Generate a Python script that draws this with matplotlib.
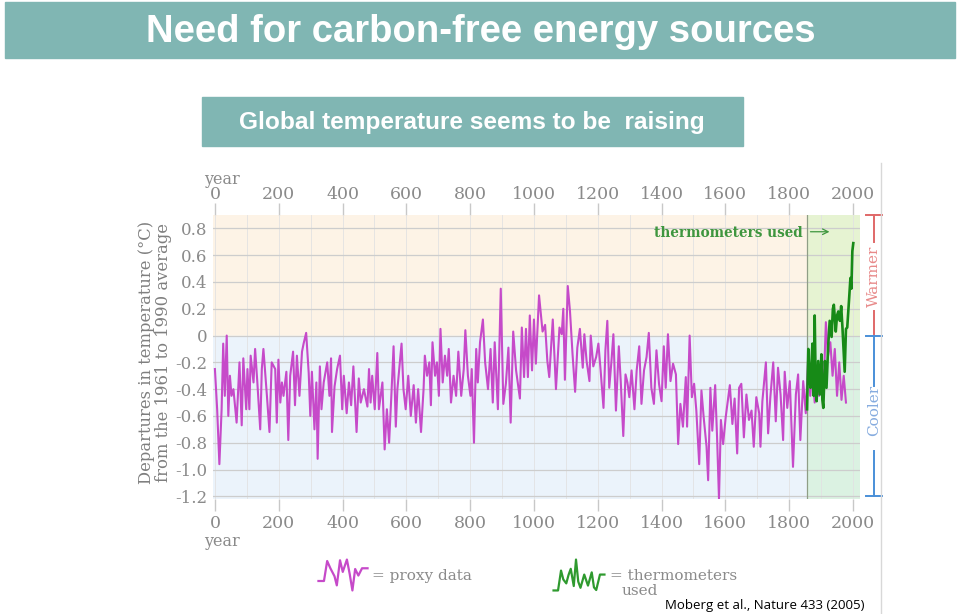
import numpy as np
import matplotlib.pyplot as plt
from matplotlib.patches import Rectangle

plt.rcParams['font.family'] = 'DejaVu Serif'

# Proxy reconstruction (Moberg et al. 2005)
proxy_years = [0, 7, 14, 21, 26, 31, 37, 42, 47, 52,
               58, 68, 77, 84, 89, 98, 102, 108, 112, 121,
               126, 133, 142, 147, 152, 163, 171, 178, 189, 194,
               199, 205, 210, 215, 224, 230, 236, 245, 251, 257,
               265, 273, 278, 286, 294, 299, 304, 312, 318, 322,
               329, 334, 341, 352, 359, 364, 367, 375, 383, 392,
               399, 404, 413, 420, 427, 434, 444, 451, 457, 467,
               478, 483, 488, 493, 501, 509, 514, 525, 532, 539,
               546, 553, 560, 567, 572, 585, 591, 598, 606, 614,
               623, 630, 637, 646, 654, 658, 665, 672, 677, 682,
               690, 696, 702, 707, 714, 721, 728, 733, 740, 748,
               756, 763, 772, 780, 785, 793, 801, 805, 812, 819,
               824, 831, 840, 847, 856, 864, 871, 877, 887, 896,
               904, 912, 920, 927, 935, 944, 951, 956, 962, 969,
               975, 981, 987, 994, 1000, 1006, 1016, 1027, 1035, 1042,
               1048, 1059, 1069, 1080, 1087, 1092, 1097, 1106, 1113, 1121,
               1129, 1136, 1144, 1153, 1158, 1165, 1174, 1178, 1186, 1195,
               1202, 1209, 1218, 1224, 1230, 1236, 1243, 1249, 1257, 1266,
               1272, 1280, 1287, 1293, 1299, 1306, 1315, 1322, 1330, 1337,
               1345, 1353, 1360, 1368, 1376, 1384, 1392, 1400, 1407, 1413,
               1420, 1428, 1436, 1445, 1452, 1459, 1467, 1476, 1480, 1488,
               1495, 1502, 1509, 1518, 1525, 1532, 1541, 1546, 1553, 1559,
               1568, 1574, 1580, 1586, 1593, 1601, 1614, 1622, 1629, 1637,
               1643, 1650, 1658, 1666, 1674, 1682, 1689, 1697, 1706, 1710,
               1716, 1727, 1734, 1741, 1750, 1758, 1765, 1773, 1781, 1786,
               1794, 1802, 1812, 1821, 1828, 1835, 1844, 1852, 1860, 1866,
               1873, 1880, 1887, 1894, 1901, 1908, 1915, 1922, 1929, 1936,
               1943, 1950, 1957, 1964, 1971, 1978]
proxy_temp = [-0.25, -0.55, -0.96, -0.55, -0.06, -0.45, 0.00, -0.60, -0.30, -0.45,
              -0.40, -0.65, -0.20, -0.67, -0.17, -0.55, -0.25, -0.55, -0.15, -0.35,
              -0.10, -0.35, -0.70, -0.25, -0.10, -0.45, -0.72, -0.20, -0.25, -0.65,
              -0.18, -0.50, -0.35, -0.45, -0.27, -0.78, -0.30, -0.12, -0.52, -0.15,
              -0.45, -0.12, -0.06, 0.02, -0.28, -0.60, -0.27, -0.70, -0.35, -0.92,
              -0.23, -0.55, -0.35, -0.20, -0.45, -0.17, -0.72, -0.38, -0.25, -0.15,
              -0.55, -0.30, -0.58, -0.35, -0.52, -0.23, -0.72, -0.32, -0.50, -0.40,
              -0.53, -0.25, -0.50, -0.30, -0.55, -0.13, -0.55, -0.35, -0.85, -0.55,
              -0.80, -0.45, -0.08, -0.68, -0.40, -0.06, -0.40, -0.55, -0.30, -0.60,
              -0.37, -0.65, -0.40, -0.72, -0.40, -0.15, -0.30, -0.20, -0.52, -0.05,
              -0.30, -0.20, -0.45, 0.05, -0.35, -0.15, -0.30, -0.10, -0.50, -0.30,
              -0.45, -0.12, -0.45, -0.25, 0.04, -0.30, -0.45, -0.25, -0.80, -0.10,
              -0.35, -0.05, 0.12, -0.20, -0.40, -0.10, -0.50, -0.05, -0.55, 0.35,
              -0.51, -0.36, -0.09, -0.65, 0.03, -0.26, -0.38, -0.47, 0.06, -0.31,
              0.05, -0.31, 0.15, -0.26, 0.12, -0.21, 0.30, 0.03, 0.08, -0.19,
              -0.31, 0.12, -0.40, 0.06, 0.01, 0.20, -0.33, 0.37, 0.18, -0.14,
              -0.42, -0.09, 0.05, -0.24, 0.01, -0.19, -0.34, 0.00, -0.23, -0.16,
              -0.06, -0.26, -0.54, -0.11, 0.11, -0.39, -0.19, 0.01, -0.56, -0.08,
              -0.34, -0.75, -0.29, -0.35, -0.46, -0.26, -0.55, -0.26, -0.08, -0.51,
              -0.26, -0.16, 0.02, -0.39, -0.51, -0.11, -0.36, -0.49, -0.08, -0.39,
              0.01, -0.34, -0.21, -0.29, -0.81, -0.51, -0.68, -0.31, -0.68, 0.00,
              -0.46, -0.36, -0.56, -0.96, -0.41, -0.61, -0.83, -1.08, -0.39, -0.71,
              -0.37, -0.76, -1.22, -0.63, -0.81, -0.61, -0.37, -0.66, -0.47, -0.88,
              -0.39, -0.36, -0.76, -0.44, -0.63, -0.56, -0.83, -0.46, -0.58, -0.83,
              -0.49, -0.20, -0.73, -0.46, -0.20, -0.64, -0.24, -0.44, -0.78, -0.27,
              -0.54, -0.34, -0.98, -0.44, -0.29, -0.78, -0.34, -0.58, -0.14, -0.45,
              -0.25, -0.50, -0.30, -0.45, -0.20, -0.40, 0.10, -0.15, -0.05, -0.30,
              -0.10, -0.45, -0.20, -0.48, -0.30, -0.50]

# instrumental record
thermo_years = [1856, 1860, 1863, 1867, 1870, 1873, 1877, 1880, 1883, 1886,
                1891, 1896, 1901, 1904, 1907, 1912, 1917, 1922, 1927, 1933,
                1937, 1940, 1946, 1950, 1954, 1959, 1963, 1967, 1974, 1978,
                1982, 1988, 1992, 1995, 1998, 2001]
thermo_temp = [-0.55, -0.10, -0.30, -0.39, -0.20, -0.06, -0.45, 0.15, -0.35, -0.49,
               -0.19, -0.44, -0.14, -0.48, -0.54, -0.19, -0.39, -0.09, 0.11, -0.01,
               0.20, 0.23, 0.03, 0.15, 0.18, 0.11, 0.22, 0.06, -0.27, 0.05,
               0.06, 0.28, 0.43, 0.35, 0.63, 0.69]
thermo_start = 1856

year_ticks = list(range(0, 2001, 200))
temp_ticks = [0.8, 0.6, 0.4, 0.2, 0.0, -0.2, -0.4, -0.6, -0.8, -1.0, -1.2]
temp_labels = ['0.8', '0.6', '0.4', '0.2', '0', '-0.2', '-0.4', '-0.6', '-0.8', '-1.0', '-1.2']

W, H = 960, 614
fig = plt.figure(figsize=(9.6, 6.14), dpi=100)

def fx(px):
    return px / W

def fy(py):
    return 1 - py / H

teal = '#80b6b3'
gray = '#8a8a8a'
magenta = '#c64ac9'
green = '#178a17'

# title bar and subtitle box
fig.add_artist(Rectangle((fx(5), fy(58)), 950 / W, 56 / H, color=teal,
                         transform=fig.transFigure))
fig.text(fx(481), fy(32), 'Need for carbon-free energy sources', color='white',
         fontsize=27.5, fontweight='bold', family='Liberation Sans', ha='center', va='center')
fig.add_artist(Rectangle((fx(202), fy(146)), 541 / W, 49 / H, color=teal,
                         transform=fig.transFigure))
fig.text(fx(472), fy(122), 'Global temperature seems to be  raising', color='white',
         fontsize=17.6, fontweight='bold', family='Liberation Sans', ha='center', va='center')

# faint right edge of the embedded figure
fig.add_artist(plt.Line2D([fx(881), fx(881)], [fy(163), 0], color='#d8d8d8', lw=1,
                          transform=fig.transFigure))

ax = fig.add_axes([fx(213), fy(499), 647 / W, 284 / H])
ax.set_xlim(-6, 2022)
ax.set_ylim(-1.22, 0.9)
for s in ax.spines.values():
    s.set_visible(False)

ax.axhspan(0, 0.9, color='#fdf3e6', zorder=0)
ax.axhspan(-1.22, 0, color='#ebf3fb', zorder=0)
ax.fill_between([thermo_start, 2022], 0, 0.9, color='#e6f3d2', zorder=0.5, lw=0)
ax.fill_between([thermo_start, 2022], -1.22, 0, color='#dbf2e2', zorder=0.5, lw=0)

ax.set_xticks(year_ticks)
ax.set_xticks(range(100, 2001, 200), minor=True)
ax.grid(axis='x', which='both', color='#e2e2e2', lw=0.6, zorder=1)
ax.set_yticks(temp_ticks)
ax.set_yticklabels(temp_labels)
ax.grid(axis='y', which='major', color='#cdcdcd', lw=0.9, zorder=1)
ax.set_axisbelow(True)

ax.tick_params(axis='x', which='major', length=8.5, width=1, color='#c8c8c8',
               pad=3, labelsize=12.5, labelcolor=gray)
ax.tick_params(axis='x', which='minor', length=0)
ax.tick_params(axis='y', length=0, pad=4, labelsize=12, labelcolor=gray)

top = ax.secondary_xaxis('top')
top.set_xticks(year_ticks)
top.tick_params(axis='x', length=8.5, width=1, color='#c8c8c8', pad=0,
                labelsize=12.5, labelcolor=gray)
top.spines['top'].set_visible(False)

ax.axvline(thermo_start, color='#8f9e86', lw=0.9, zorder=2)

ax.plot(proxy_years, proxy_temp, color=magenta, lw=1.5, zorder=3)
ax.plot(thermo_years, thermo_temp, color=green, lw=1.9, zorder=4)

ax.text(1843, 0.765, 'thermometers used', color='#3f963f', fontsize=9.8,
        fontweight='bold', ha='right', va='center')
ax.annotate('', xy=(1935, 0.775), xytext=(1858, 0.775),
            arrowprops=dict(arrowstyle='->', color='#3f963f', lw=0.9))

# warmer / cooler brackets
xb = 2066
ax.plot([xb, xb], [0.9, 0.70], color='#e06868', lw=1.4, clip_on=False)
ax.plot([xb, xb], [0.18, 0.01], color='#e06868', lw=1.4, clip_on=False)
ax.plot([xb - 25, xb + 25], [0.9, 0.9], color='#e06868', lw=1.4, clip_on=False)
ax.text(xb, 0.44, 'Warmer', color='#e88a8a', rotation=90, fontsize=11,
        ha='center', va='center', clip_on=False)
ax.plot([xb - 25, xb + 25], [0.0, 0.0], color='#4a8fd8', lw=1.4, clip_on=False)
ax.plot([xb, xb], [0.0, -0.38], color='#4a8fd8', lw=1.4, clip_on=False)
ax.plot([xb, xb], [-0.86, -1.2], color='#4a8fd8', lw=1.4, clip_on=False)
ax.plot([xb - 25, xb + 25], [-1.2, -1.2], color='#4a8fd8', lw=1.4, clip_on=False)
ax.text(xb, -0.56, 'Cooler', color='#86acdf', rotation=90, fontsize=11,
        ha='center', va='center', clip_on=False)

# 'year' captions and y label
fig.text(fx(222), fy(179), 'year', color=gray, fontsize=11.5, ha='center', va='center')
fig.text(fx(222), fy(541), 'year', color=gray, fontsize=11.5, ha='center', va='center')
fig.text(fx(155), fy(352), 'Departures in temperature (°C)\nfrom the 1961 to 1990 average',
         color='#7f7f7f', fontsize=11.8, rotation=90, ha='center',
         va='center', linespacing=1.0)

# legend icons: short stretches of each series with flat tails
icon1 = fig.add_axes([fx(316), fy(592), 54 / W, 34 / H])
px_ = proxy_years[213:226]
pv_ = proxy_temp[213:226]
icon1.plot([px_[0] - 12] + px_ + [px_[-1] + 12], [pv_[0]] + pv_ + [pv_[-1]],
           color=magenta, lw=1.6)
icon1.axis('off')
fig.text(fx(372), fy(576), '= proxy data', color=gray, fontsize=11, va='center')

icon2 = fig.add_axes([fx(551), fy(592), 56 / W, 34 / H])
tx_ = thermo_years[:16]
tv_ = thermo_temp[:16]
icon2.plot([tx_[0] - 6] + tx_ + [tx_[-1] + 6], [tv_[0]] + tv_ + [tv_[-1]],
           color='#2f9a2f', lw=1.6)
icon2.axis('off')
fig.text(fx(610), fy(576), '= thermometers', color=gray, fontsize=11, va='center')
fig.text(fx(622), fy(591), 'used', color=gray, fontsize=11, va='center')

fig.text(fx(665), fy(606), 'Moberg et al., Nature 433 (2005)', color='black',
         fontsize=9.5, family='Open Sans', va='center')

fig.savefig('out.png', dpi=100)
